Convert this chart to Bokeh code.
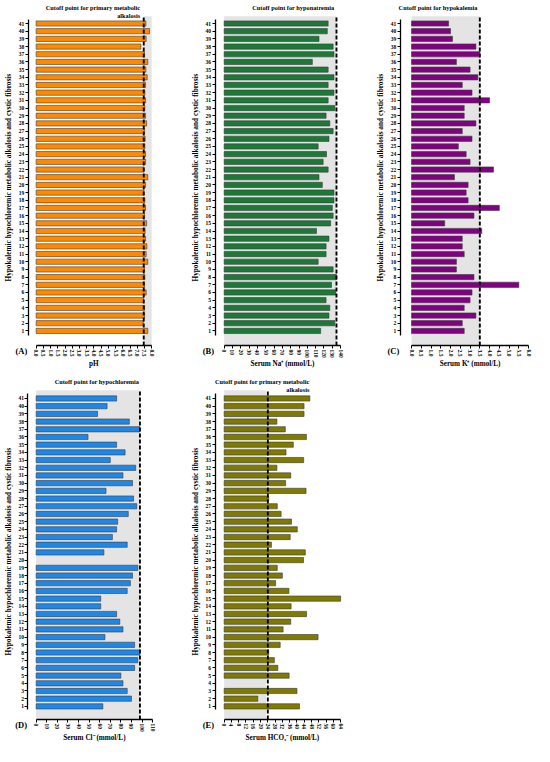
import math
from bokeh.plotting import figure
from bokeh.layouts import column, row
from bokeh.models import FixedTicker, PrintfTickFormatter
from bokeh.core.properties import value
from bokeh.embed import file_html
from bokeh.resources import INLINE

# ---------------- data ----------------
rows = list(range(1, 42))

ph = [7.73, 7.42, 7.51, 7.51, 7.44, 7.62, 7.51, 7.53, 7.51, 7.73,
      7.62, 7.67, 7.58, 7.55, 7.65, 7.51, 7.58, 7.53, 7.47, 7.58,
      7.73, 7.47, 7.58, 7.58, 7.53, 7.55, 7.51, 7.65, 7.58, 7.53,
      7.58, 7.53, 7.58, 7.69, 7.60, 7.73, 7.51, 7.26, 7.62, 7.85, 7.60]

sodium = [116, 133, 126, 127, 122.5, 134, 129, 135, 131, 113,
          122.5, 122.5, 126, 111, 128, 131, 130, 132, 132, 118,
          114, 125, 119, 123, 113, 126, 131, 127, 122.5, 133,
          125, 132, 125, 132, 125, 106, 132, 131, 114, 124, 125]

potassium = [2.7, 2.6, 3.3, 2.7, 3.0, 3.1, 5.5, 3.2, 2.3, 2.3,
             2.7, 2.6, 2.6, 3.6, 1.7, 3.2, 4.5, 2.9, 2.8, 2.9,
             2.2, 4.2, 3.0, 2.8, 2.4, 3.1, 2.6, 3.3, 2.7, 2.7,
             4.0, 3.1, 2.6, 3.4, 3.0, 2.3, 3.5, 3.3, 2.1, 2.0, 1.9]

chloride = [63, 90, 86, 82, 80, 93, 96, 98, 93, 65,
            82, 79, 76, 61, 61, 86, 89, 91, 96, None,
            64, 86, 72, 76, 77, 87, 95, 92, 66, 91,
            82, 94, 70, 84, 76, 49, 98, 88, 58, 67, 76]

bicarbonate = [41.4, 18.5, 40.0, None, 35.7, 29.5, 27.6, 24.5, 30.8, 51.6,
               32.4, 36.6, 45.3, 36.8, 64.0, 35.6, 28.3, 32.0, 29.2, 43.6,
               44.6, 26.0, 36.3, 40.2, 37.0, 31.3, 29.2, 24.5, 45.0, 33.8,
               36.6, 29.0, 43.7, 34.0, 38.0, 45.2, 33.6, 29.0, 43.9, 43.9, 47.1]

cutoffs = [7.45, 135, 3.5, 98, 24]
shade_ranges = [(7.45, 8.0), (0, 135), (0, 3.5), (0, 98), (0, 23)]
axis_max = [8.0, 140, 6.0, 110, 64]
tick_steps = [0.5, 10, 0.5, 10, 4]
tick_formats = ["%.1f", "%d", "%.1f", "%d", "%d"]

x_titles = ["pH", "Serum Na\u207a (mmol/L)", "Serum K\u207a (mmol/L)",
            "Serum Cl\u207b (mmol/L)", "Serum HCO\u2083\u207b (mmol/L)"]
cut_titles = [["Cutoff point for primary metabolic", "alkalosis"],
              ["Cutoff point for hyponatremia"],
              ["Cutoff point for hypokalemia"],
              ["Cutoff point for hypochloremia"],
              ["Cutoff point for primary metabolic", "alkalosis"]]
panel_labels = ["(A)", "(B)", "(C)", "(D)", "(E)"]
y_title = "Hypokalemic hypochloremic metabolic alkalosis and cystic fibrosis"
colors = ["#FF8A00", "#1B7A38", "#820082", "#1E88E8", "#7F7A00"]
series = [ph, sodium, potassium, chloride, bicarbonate]

# ---------------- layout (reference pixels, relative to each slot) ----------
SX, SY = 534 / 550, 746 / 762
FIG_W = [178, 177, 179, 178, 177]
FIG_H = [374, 374, 374, 372, 372]
AXIS_PX = [28.5, 37.7, 46.0, 28.3, 37.7]     # y-axis line
ZERO_PX = [36.7, 47.0, 57.7, 36.7, 47.0]     # x = 0
MAX_PX = [155.7, 167.0, 178.3, 156.7, 167.0]  # x = axis max
ROW41_PX = [23.5, 23.5, 23.5, 24.5, 24.5]
ROW1_PX = [337.5, 337.5, 337.5, 339.0, 339.0]
XAXIS_PX = 352.5
SHADE_TOP_PX = 16
YAX_TOP_PX, YAX_BOT_PX = 19.5, 342.5
TITLE_PX = [7, 15]
PANEL_LABEL_PX = 358
XTITLE_PX = 371.5
TITLE_ANCHOR = [7.21, 132.2, 3.38, 97.2, 46.8]
FONT = "Liberation Serif"


def make_panel(i):
    vals = series[i]
    xmax = axis_max[i]
    W, H = FIG_W[i], FIG_H[i]
    z = ZERO_PX[i] * SX
    m = MAX_PX[i] * SX
    s = (m - z) / xmax
    xa = -z / s
    xb = xa + W / s
    r41 = ROW41_PX[i] * SY
    r1 = ROW1_PX[i] * SY
    t = (r1 - r41) / 40.0
    ytop = 41 + r41 / t
    ybot = ytop - H / t

    def dx(px):
        return xa + px * SX / s

    def dy(px):
        return ytop - px * SY / t

    p = figure(width=W, height=H, x_range=(xa, xb), y_range=(ybot, ytop),
               output_backend="svg", toolbar_location=None,
               min_border_left=0, min_border_right=0, min_border_top=0,
               min_border_bottom=0)
    p.grid.visible = False
    p.outline_line_color = None
    p.background_fill_color = "white"
    p.border_fill_color = "white"

    y_axis_row = dy(XAXIS_PX)
    y_shade_top = dy(SHADE_TOP_PX)

    lo, hi = shade_ranges[i]
    p.quad(left=[lo], right=[hi], bottom=[y_axis_row], top=[y_shade_top],
           fill_color="#e4e4e4", line_color=None)

    ys = [r for r, v in zip(rows, vals) if v is not None]
    xs = [v for v in vals if v is not None]
    p.hbar(y=ys, right=xs, left=0, height=0.68, fill_color=colors[i],
           line_color="#3a3a3a", line_width=0.6)

    c = cutoffs[i]
    p.segment(x0=[c], x1=[c], y0=[y_axis_row], y1=[y_shade_top],
              line_color="black", line_width=1.9, line_dash="4 2")

    lines = cut_titles[i]
    p.text(x=[TITLE_ANCHOR[i]] * len(lines),
           y=[dy(v) for v in TITLE_PX[:len(lines)]],
           text=lines, text_align="right", text_baseline="middle",
           text_font=value(FONT), text_font_style="bold",
           text_font_size="6.3px", text_color="black")

    # axis titles and panel label
    p.text(x=[xmax / 2.0], y=[dy(XTITLE_PX)], text=[x_titles[i]],
           text_align="center", text_baseline="middle",
           text_font=value(FONT), text_font_style="bold",
           text_font_size="7.2px", text_color="black")
    p.text(x=[dx(AXIS_PX[i] - 20.5)], y=[dy((YAX_TOP_PX + YAX_BOT_PX) / 2)],
           text=[y_title], angle=math.pi / 2, text_align="center",
           text_baseline="middle", text_font=value(FONT),
           text_font_style="bold", text_font_size="7.3px", text_color="black")
    p.text(x=[dx(AXIS_PX[i] - 7)], y=[dy(PANEL_LABEL_PX)],
           text=[panel_labels[i]], text_align="center",
           text_baseline="middle", text_font=value(FONT),
           text_font_style="bold", text_font_size="8.5px", text_color="black")

    # axes
    step = tick_steps[i]
    n = int(round(xmax / step))
    xt = [round(k * step, 3) for k in range(n + 1)]
    xaxis = p.xaxis[0]
    xaxis.ticker = FixedTicker(ticks=xt)
    xaxis.formatter = PrintfTickFormatter(format=tick_formats[i])
    xaxis.bounds = (0, xmax)
    xaxis.fixed_location = y_axis_row
    xaxis.major_label_orientation = "vertical"
    yaxis = p.yaxis[0]
    yaxis.ticker = FixedTicker(ticks=rows)
    yaxis.bounds = (dy(YAX_BOT_PX), dy(YAX_TOP_PX))
    yaxis.fixed_location = dx(AXIS_PX[i])
    for ax in (xaxis, yaxis):
        ax.axis_line_width = 1.3
        ax.axis_line_color = "black"
        ax.major_tick_out = 3
        ax.major_tick_in = 0
        ax.minor_tick_out = 0
        ax.minor_tick_in = 0
        ax.major_tick_line_color = "black"
        ax.major_label_text_font = FONT
        ax.major_label_text_font_style = "bold"
        ax.major_label_text_color = "black"
        ax.major_label_standoff = 1
        ax.major_label_text_font_size = "5.5px"
    return p


panels = [make_panel(i) for i in range(5)]
layout = column(row(panels[0], panels[1], panels[2]), row(panels[3], panels[4]))

open("out.html", "w").write(file_html(layout, INLINE))
